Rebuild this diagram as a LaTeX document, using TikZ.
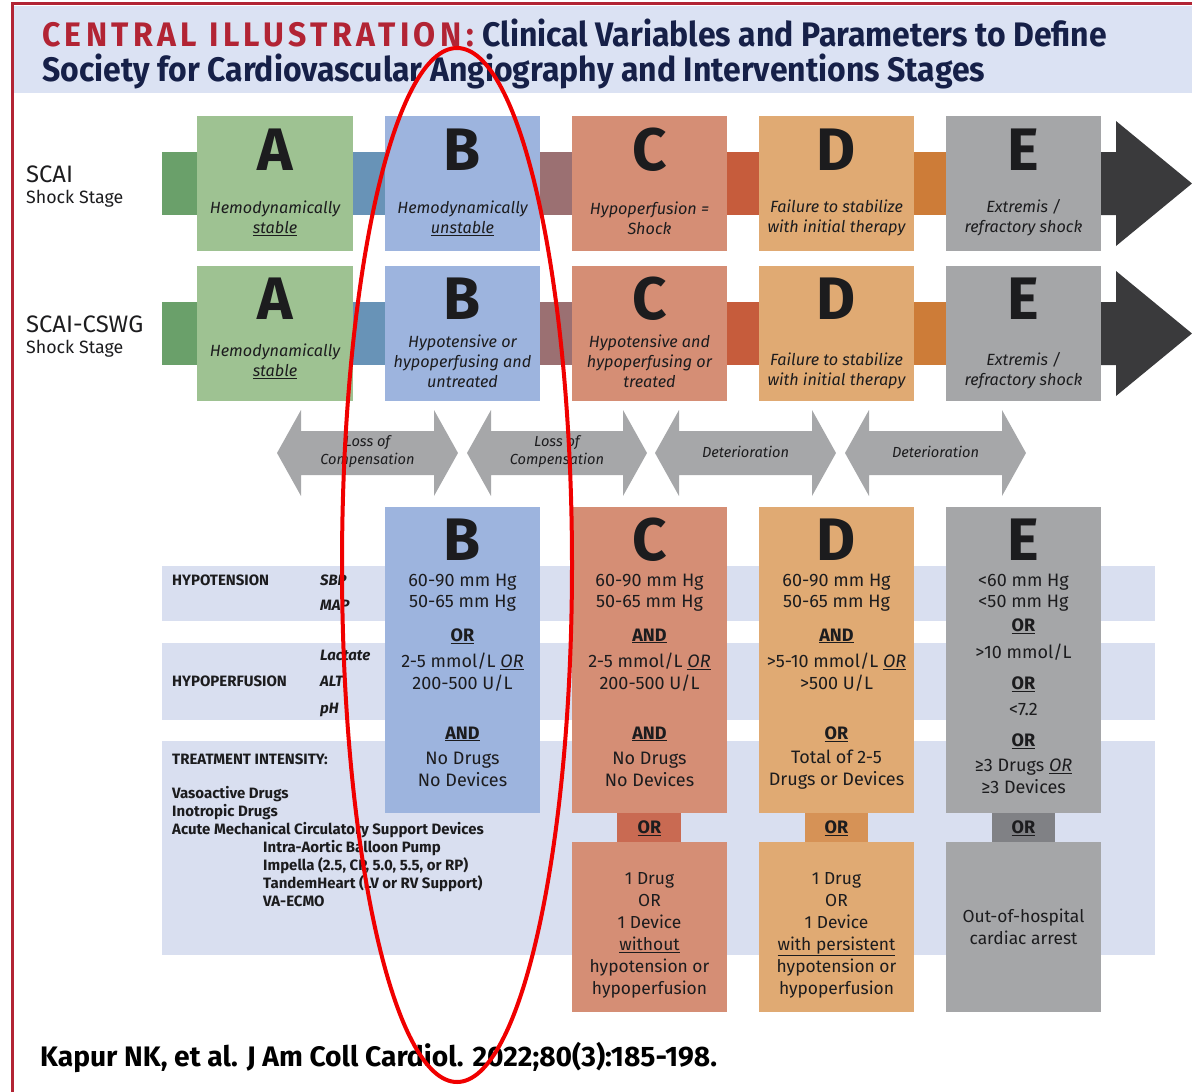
\documentclass[tikz,border=0pt]{standalone}
\usepackage{fontspec}
\setmainfont{Fira Sans}
\usepackage{tikz}
\definecolor{frameRed}{RGB}{178, 36, 52}
\definecolor{headBg}{RGB}{219, 226, 243}
\definecolor{titleNavy}{RGB}{22, 32, 72}
\definecolor{inkc}{RGB}{28, 28, 30}
\definecolor{bandBg}{RGB}{217, 223, 240}
\definecolor{stageA}{RGB}{158, 194, 146}
\definecolor{stageB}{RGB}{157, 180, 222}
\definecolor{stageC}{RGB}{213, 142, 117}
\definecolor{stageD}{RGB}{224, 170, 115}
\definecolor{stageE}{RGB}{165, 166, 168}
\definecolor{linkA}{RGB}{106, 160, 106}
\definecolor{linkB}{RGB}{104, 147, 183}
\definecolor{linkC}{RGB}{155, 112, 114}
\definecolor{linkD}{RGB}{198, 92, 60}
\definecolor{linkE}{RGB}{205, 124, 56}
\definecolor{tipDark}{RGB}{58, 58, 60}
\definecolor{tabC}{RGB}{201, 106, 82}
\definecolor{tabD}{RGB}{214, 146, 86}
\definecolor{tabE}{RGB}{128, 129, 133}
\definecolor{dblGray}{RGB}{166, 167, 169}
\definecolor{markRed}{RGB}{240, 0, 0}

\begin{document}
\begin{tikzpicture}[
    x=1pt, y=-1pt,
    bigletter/.style={font=\fontsize{60}{60}\selectfont\bfseries, text=inkc, inner sep=0pt},
    stagetext/.style={font=\fontsize{16.2}{20}\selectfont\itshape, text=inkc, align=center},
    valtext/.style={font=\fontsize{18}{21.5}\selectfont, text=inkc, align=center},
    alttext/.style={font=\fontsize{17.4}{22}\selectfont, text=inkc, align=center},
    joinword/.style={font=\fontsize{18}{20}\selectfont\bfseries, text=inkc},
    rowlabel/.style={font=\fontsize{15}{18}\selectfont\bfseries, text=inkc, anchor=base west, inner sep=0pt},
    sublabel/.style={font=\fontsize{15}{18}\selectfont\bfseries\itshape, text=inkc, anchor=base west, inner sep=0pt},
    arrowtext/.style={font=\fontsize{14.6}{18}\selectfont\itshape, text=inkc, align=center}
]
    \useasboundingbox (0,0) rectangle (1192,1092);

    % Header
    \fill[headBg] (14,6) rectangle (1192,93);
    \fill[frameRed] (11,2) rectangle (1192,5);
    \fill[frameRed] (11,2) rectangle (14,1092);
    \node[anchor=base west, inner sep=0pt, font=\fontsize{34}{36}\selectfont\bfseries\addfontfeature{FakeStretch=0.94}, text=titleNavy] (title1) at (42,46)
        {{\color{frameRed}\addfontfeature{LetterSpace=13}CENTRAL ILLUSTRATION:}\hspace{9pt}Clinical Variables and Parameters to Define};
    \node[anchor=base west, inner sep=0pt, font=\fontsize{34}{36}\selectfont\bfseries\addfontfeature{FakeStretch=0.94}, text=titleNavy] (title2) at (42,81)
        {Society for Cardiovascular Angiography and Interventions Stages};

    % Row labels
    \node[anchor=base west, inner sep=0pt, font=\fontsize{23.8}{26}\selectfont, text=inkc] (lblScai) at (26,182) {SCAI};
    \node[anchor=base west, inner sep=0pt, font=\fontsize{17.8}{20}\selectfont, text=inkc] (lblScaiSub) at (26,203) {Shock Stage};
    \node[anchor=base west, inner sep=0pt, font=\fontsize{23.8}{26}\selectfont, text=inkc] (lblCswg) at (26,332) {SCAI-CSWG};
    \node[anchor=base west, inner sep=0pt, font=\fontsize{17.8}{20}\selectfont, text=inkc] (lblCswgSub) at (26,353) {Shock Stage};

    % SCAI row: links and stages
    \fill[linkA] (162,152) rectangle (197,215);
    \fill[linkB] (353,152) rectangle (385,215);
    \fill[linkC] (540,152) rectangle (572,215);
    \fill[linkD] (727,152) rectangle (759,215);
    \fill[linkE] (914,152) rectangle (946,215);
    \fill[tipDark] (1101,152) -- (1116,152) -- (1116,121) -- (1192,183.5) -- (1116,246) -- (1116,215) -- (1101,215) -- cycle;
    \fill[stageA] (197,116) rectangle (353,251);
    \fill[stageB] (385,116) rectangle (540,251);
    \fill[stageC] (572,116) rectangle (727,251);
    \fill[stageD] (759,116) rectangle (914,251);
    \fill[stageE] (946,116) rectangle (1101,251);
    \node[bigletter] (scaiA) at (275,150) {A};
    \node[bigletter] (scaiB) at (462.5,150) {B};
    \node[bigletter] (scaiC) at (649.5,150) {C};
    \node[bigletter] (scaiD) at (836.5,150) {D};
    \node[bigletter] (scaiE) at (1023.5,150) {E};
    \node[stagetext] (scaiAtxt) at (275,218) {Hemodynamically\\\underline{stable}};
    \node[stagetext] (scaiBtxt) at (462.5,218) {Hemodynamically\\\underline{unstable}};
    \node[stagetext] (scaiCtxt) at (649.5,218) {Hypoperfusion =\\Shock};
    \node[stagetext] (scaiDtxt) at (836.5,218) {Failure to stabilize\\with initial therapy};
    \node[stagetext] (scaiEtxt) at (1023.5,218) {Extremis /\\refractory shock};

    % SCAI-CSWG row: links and stages
    \fill[linkA] (162,302) rectangle (197,365);
    \fill[linkB] (353,302) rectangle (385,365);
    \fill[linkC] (540,302) rectangle (572,365);
    \fill[linkD] (727,302) rectangle (759,365);
    \fill[linkE] (914,302) rectangle (946,365);
    \fill[tipDark] (1101,302) -- (1116,302) -- (1116,271) -- (1192,333.5) -- (1116,396) -- (1116,365) -- (1101,365) -- cycle;
    \fill[stageA] (197,266) rectangle (353,401);
    \fill[stageB] (385,266) rectangle (540,401);
    \fill[stageC] (572,266) rectangle (727,401);
    \fill[stageD] (759,266) rectangle (914,401);
    \fill[stageE] (946,266) rectangle (1101,401);
    \node[bigletter] (cswgA) at (275,299) {A};
    \node[bigletter] (cswgB) at (462.5,299) {B};
    \node[bigletter] (cswgC) at (649.5,299) {C};
    \node[bigletter] (cswgD) at (836.5,299) {D};
    \node[bigletter] (cswgE) at (1023.5,299) {E};
    \node[stagetext] (cswgAtxt) at (275,361) {Hemodynamically\\\underline{stable}};
    \node[stagetext] (cswgBtxt) at (462.5,361.5) {Hypotensive or\\hypoperfusing and\\untreated};
    \node[stagetext] (cswgCtxt) at (649.5,361.5) {Hypotensive and\\hypoperfusing or\\treated};
    \node[stagetext] (cswgDtxt) at (836.5,371) {Failure to stabilize\\with initial therapy};
    \node[stagetext] (cswgEtxt) at (1023.5,371) {Extremis /\\refractory shock};

    % Transition arrows
    \fill[dblGray] (277,453) -- (301,410) -- (301,431) -- (434,431) -- (434,410) -- (458,453) -- (434,496) -- (434,475) -- (301,475) -- (301,496) -- cycle;
    \fill[dblGray] (467,453) -- (491,410) -- (491,431) -- (623,431) -- (623,410) -- (647,453) -- (623,496) -- (623,475) -- (491,475) -- (491,496) -- cycle;
    \fill[dblGray] (655,453) -- (679,410) -- (679,431) -- (812,431) -- (812,410) -- (836,453) -- (812,496) -- (812,475) -- (679,475) -- (679,496) -- cycle;
    \fill[dblGray] (845,453) -- (869,410) -- (869,431) -- (1002,431) -- (1002,410) -- (1026,453) -- (1002,496) -- (1002,475) -- (869,475) -- (869,496) -- cycle;
    \node[arrowtext] (lossAB) at (367.5,452) {Loss of\\Compensation};
    \node[arrowtext] (lossBC) at (557,452) {Loss of\\Compensation};
    \node[arrowtext] (detCD) at (745.5,452) {Deterioration};
    \node[arrowtext] (detDE) at (935.5,452) {Deterioration};

    % Criteria bands
    \fill[bandBg] (162,566) rectangle (1155,621);
    \fill[bandBg] (162,643) rectangle (1155,720);
    \fill[bandBg] (162,741) rectangle (1155,955);
    \node[rowlabel] (hypoLbl) at (172,585) {HYPOTENSION};
    \node[sublabel] (sbpLbl) at (320,585) {SBP};
    \node[sublabel] (mapLbl) at (320,610) {MAP};
    \node[sublabel] (lacLbl) at (320,660) {Lactate};
    \node[rowlabel] (perfLbl) at (172,686) {HYPOPERFUSION};
    \node[sublabel] (altLbl) at (320,686) {ALT};
    \node[sublabel] (phLbl) at (320,713) {pH};
    \node[rowlabel] (treatLbl) at (172,764) {TREATMENT INTENSITY:};
    \node[rowlabel] (vasoLbl) at (172,798) {Vasoactive Drugs};
    \node[rowlabel] (inoLbl) at (172,816) {Inotropic Drugs};
    \node[rowlabel] (amcsLbl) at (172,834) {Acute Mechanical Circulatory Support Devices};
    \node[rowlabel] (iabpLbl) at (263,852) {Intra-Aortic Balloon Pump};
    \node[rowlabel] (impLbl) at (263,870) {Impella (2.5, CP, 5.0, 5.5, or RP)};
    \node[rowlabel] (thLbl) at (263,888) {TandemHeart (LV or RV Support)};
    \node[rowlabel] (ecmoLbl) at (263,906) {VA-ECMO};

    % Criteria columns
    \fill[stageB] (385,507) rectangle (540,813);
    \fill[stageC] (572,507) rectangle (727,813);
    \fill[stageD] (759,507) rectangle (914,813);
    \fill[stageE] (946,507) rectangle (1101,813);
    \fill[tabC] (617,813) rectangle (681,842);
    \fill[tabD] (805,813) rectangle (868,842);
    \fill[tabE] (992,813) rectangle (1055,842);
    \fill[stageC] (572,842) rectangle (727,1012);
    \fill[stageD] (759,842) rectangle (914,1012);
    \fill[stageE] (946,842) rectangle (1101,1012);

    \node[bigletter] (critB) at (462.5,540) {B};
    \node[valtext] (critBhyp) at (462.5,592.5) {60-90 mm Hg\\50-65 mm Hg};
    \node[joinword] (critBor1) at (462.5,636) {\underline{OR}};
    \node[valtext] (critBperf) at (462.5,672) {2-5 mmol/L \underline{\textit{OR}}\\200-500 U/L};
    \node[joinword] (critBand) at (462.5,734) {\underline{AND}};
    \node[valtext] (critBtrt) at (462.5,769.5) {No Drugs\\No Devices};

    \node[bigletter] (critC) at (649.5,540) {C};
    \node[valtext] (critChyp) at (649.5,592.5) {60-90 mm Hg\\50-65 mm Hg};
    \node[joinword] (critCand1) at (649.5,636) {\underline{AND}};
    \node[valtext] (critCperf) at (649.5,672) {2-5 mmol/L \underline{\textit{OR}}\\200-500 U/L};
    \node[joinword] (critCand2) at (649.5,734) {\underline{AND}};
    \node[valtext] (critCtrt) at (649.5,769.5) {No Drugs\\No Devices};
    \node[joinword] (tabCor) at (649.5,828) {\underline{OR}};
    \node[alttext] (altC) at (649.5,935) {1 Drug\\OR\\1 Device\\\underline{without}\\hypotension or\\hypoperfusion};

    \node[bigletter] (critD) at (836.5,540) {D};
    \node[valtext] (critDhyp) at (836.5,592.5) {60-90 mm Hg\\50-65 mm Hg};
    \node[joinword] (critDand) at (836.5,636) {\underline{AND}};
    \node[valtext] (critDperf) at (836.5,672) {>5-10 mmol/L \underline{\textit{OR}}\\>500 U/L};
    \node[joinword] (critDor) at (836.5,734) {\underline{OR}};
    \node[valtext] (critDtrt) at (836.5,769.5) {Total of 2-5\\Drugs or Devices};
    \node[joinword] (tabDor) at (836.5,828) {\underline{OR}};
    \node[alttext] (altD) at (836.5,935) {1 Drug\\OR\\1 Device\\\underline{with persistent}\\hypotension or\\hypoperfusion};

    \node[bigletter] (critE) at (1023.5,540) {E};
    \node[valtext] (critEhyp) at (1023.5,592.5) {<60 mm Hg\\<50 mm Hg};
    \node[joinword] (critEor1) at (1023.5,626) {\underline{OR}};
    \node[valtext] (critElac) at (1023.5,652) {>10 mmol/L};
    \node[joinword] (critEor2) at (1023.5,684) {\underline{OR}};
    \node[valtext] (critEph) at (1023.5,709) {<7.2};
    \node[joinword] (critEor3) at (1023.5,741) {\underline{OR}};
    \node[valtext] (critEtrt) at (1023.5,776.5) {≥3 Drugs \underline{\textit{OR}}\\≥3 Devices};
    \node[joinword] (tabEor) at (1023.5,828) {\underline{OR}};
    \node[alttext] (altE) at (1023.5,926.5) {Out-of-hospital\\cardiac arrest};

    % Citation
    \node[anchor=base west, inner sep=0pt, font=\fontsize{28.2}{30}\selectfont\bfseries, text=black] (cite) at (40,1066)
        {Kapur NK, et al. J Am Coll Cardiol. 2022;80(3):185-198.};

    % Hand-drawn highlight
    \draw[markRed, line width=4pt] (457,565) ellipse [x radius=115pt, y radius=517pt];
\end{tikzpicture}
\end{document}
